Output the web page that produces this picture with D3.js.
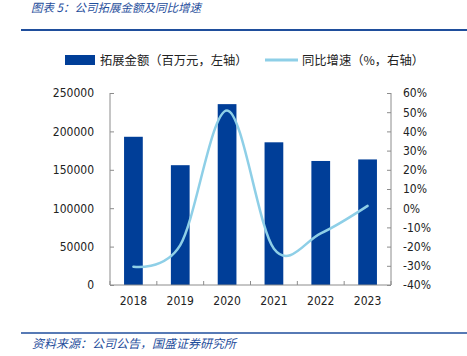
<!DOCTYPE html>
<html><head><meta charset="utf-8">
<script src="https://cdn.jsdelivr.net/npm/d3@7"></script>
<style>
html,body{margin:0;padding:0;background:#fff;}
svg{display:block;}
</style></head>
<body><svg id="c" width="467" height="356"></svg>
<script>
const years = ["2018","2019","2020","2021","2022","2023"];
const amount = [193000, 156000, 235500, 185800, 161500, 163500];
const growth = [-30.5, -19.2, 50.9, -21.1, -13.1, 1.2];
const leftTicks = [0, 50000, 100000, 150000, 200000, 250000];
const rightTicks = [-40, -30, -20, -10, 0, 10, 20, 30, 40, 50, 60];

const svg = d3.select("#c");
const numFont = '"DejaVu Sans Condensed","Liberation Sans",sans-serif';
const cjkFont = '"Noto Sans CJK SC",sans-serif';
const blue = "#003E98", light = "#8ECFE7", titleBlue = "#1F4E9C", axisCol = "#8c8c8c";

const x0 = 110, x1 = 391, yTop = 93, yBot = 285;
const x = d3.scaleBand().domain(years).range([x0, x1]).paddingInner(0.6).paddingOuter(0.3);
const yL = d3.scaleLinear().domain([0, 250000]).range([yBot, yTop]);
const yR = d3.scaleLinear().domain([-40, 60]).range([yBot, yTop]);

// title
svg.append("text").attr("x", 31).attr("y", 12).attr("fill", titleBlue)
  .attr("font-family", cjkFont).attr("font-size", 11.5).attr("font-style", "italic")
  .text("图表 5：公司拓展金额及同比增速");
svg.append("line").attr("x1", 21).attr("x2", 467).attr("y1", 30).attr("y2", 30)
  .attr("stroke", titleBlue).attr("stroke-width", 2);

// legend
svg.append("rect").attr("x", 65).attr("y", 55).attr("width", 30).attr("height", 10).attr("fill", blue);
svg.append("text").attr("x", 100).attr("y", 64.5).attr("font-family", cjkFont).attr("font-size", 12.3).attr("fill", "#222")
  .text("拓展金额（百万元，左轴）");
svg.append("line").attr("x1", 265).attr("x2", 298).attr("y1", 60).attr("y2", 60).attr("stroke", light).attr("stroke-width", 3);
svg.append("text").attr("x", 302).attr("y", 64.5).attr("font-family", cjkFont).attr("font-size", 12.3).attr("fill", "#222")
  .text("同比增速（%，右轴）");

// bars
svg.append("g").selectAll("rect").data(years).join("rect")
  .attr("x", d => x(d)).attr("width", x.bandwidth())
  .attr("y", (d, i) => yL(amount[i])).attr("height", (d, i) => yBot - yL(amount[i]))
  .attr("fill", blue);

// line
const lineX = d3.scalePoint().domain(years).range([x0, x1]).padding(0.5);
const line = d3.line().x((d, i) => lineX(years[i])).y(d => yR(d)).curve(d3.curveCardinal.tension(0));
svg.append("path").datum(growth).attr("d", line).attr("fill", "none")
  .attr("stroke", light).attr("stroke-width", 2.5).attr("stroke-linecap", "round");

// axes
const gl = svg.append("g").attr("transform", `translate(${x0},0)`)
  .call(d3.axisLeft(yL).tickValues(leftTicks).tickSize(-4).tickPadding(16).tickFormat(d3.format("d")));
const gr = svg.append("g").attr("transform", `translate(${x1},0)`)
  .call(d3.axisRight(yR).tickValues(rightTicks).tickSize(-4).tickPadding(12).tickFormat(d => d + "%"));
const bandEdges = years.map(d => x(d) - x.step() * 0.3).concat([x1]);
const gb = svg.append("g").attr("transform", `translate(0,${yBot})`)
  .call(d3.axisBottom(x).tickSize(0).tickPadding(11));
gb.selectAll(".edge").data(bandEdges).join("line").attr("class", "edge")
  .attr("x1", d => d).attr("x2", d => d).attr("y1", 0).attr("y2", -4).attr("stroke", axisCol);
[gl, gr, gb].forEach(g => {
  g.selectAll(".domain").attr("stroke", axisCol).attr("stroke-width", 1);
  g.selectAll(".tick line").attr("stroke", axisCol);
  g.selectAll("text").attr("font-family", numFont).attr("font-size", 12).attr("fill", "#222");
});
gl.select(".domain").attr("d", `M0,${yTop}H0V${yBot}`);
gr.select(".domain").attr("d", `M0,${yTop}H0V${yBot}`);
gb.select(".domain").attr("d", `M${x0},0H${x1}`);

// source
svg.append("line").attr("x1", 21).attr("x2", 467).attr("y1", 333).attr("y2", 333)
  .attr("stroke", titleBlue).attr("stroke-width", 1.5);
svg.append("text").attr("x", 32).attr("y", 348).attr("fill", titleBlue)
  .attr("font-family", cjkFont).attr("font-size", 12).attr("font-style", "italic")
  .text("资料来源：公司公告，国盛证券研究所");
</script></body></html>
